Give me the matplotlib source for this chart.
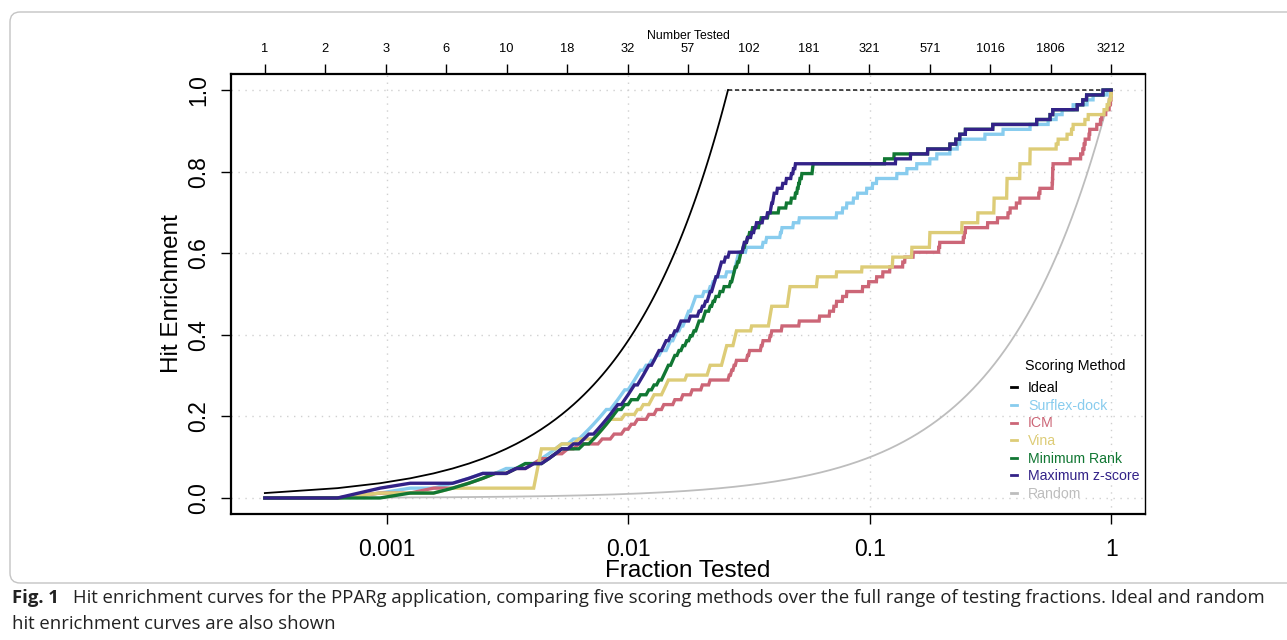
import numpy as np
import matplotlib.pyplot as plt
from matplotlib.lines import Line2D
from matplotlib.patches import FancyBboxPatch
from matplotlib.transforms import IdentityTransform

plt.rcParams["font.family"] = ["Liberation Sans", "DejaVu Sans"]

N_COMPOUNDS = 3212
N_ACTIVES = 83

# position of each active in the ranked list (ties share a rank)
surflex_ranks = [3, 4, 6, 7, 8, 10, 12, 14, 15, 16, 17, 19, 21, 22, 23, 24, 25, 26, 28, 29,
                 30, 31, 33, 34, 35, 36, 38, 40, 42, 44, 47, 48, 50, 51, 53, 55, 56, 57, 59, 60,
                 61, 66, 70, 72, 74, 82, 89, 90, 91, 92, 99, 116, 120, 137, 139, 155, 164, 234,
                 248, 258, 275, 286, 312, 330, 343, 416, 458, 503, 570, 609, 690, 740, 758, 963,
                 1145, 1482, 1761, 1900, 2012, 2234, 2552, 2703, 3090]
icm_ranks = [3, 5, 7, 8, 9, 11, 13, 14, 16, 18, 20, 25, 28, 31, 33, 35, 39, 42, 45, 50,
             54, 59, 65, 70, 84, 86, 88, 90, 100, 102, 114, 116, 124, 126, 139, 164, 199, 219,
             228, 234, 248, 258, 300, 318, 343, 364, 389, 440, 449, 486, 620, 626, 784, 792,
             800, 988, 1086, 1200, 1225, 1300, 1345, 1610, 1628, 1830, 1835, 1838, 1840, 1845,
             2173, 2400, 2450, 2480, 2506, 2600, 2618, 2800, 2900, 2935, 3050, 3150, 3190,
             3205, 3212]
vina_ranks = [3, 6, 14, 14, 14, 14, 14, 14, 14, 14, 17, 20, 24, 25, 26, 27, 31, 35, 37, 40,
              41, 45, 46, 47, 56, 69, 70, 79, 80, 81, 82, 88, 89, 90, 104, 123, 124, 125, 126,
              147, 148, 149, 150, 194, 195, 234, 298, 399, 400, 479, 480, 568, 569, 570, 773,
              774, 900, 901, 1049, 1050, 1051, 1186, 1187, 1188, 1189, 1343, 1344, 1345, 1480,
              1481, 1482, 1900, 1936, 2108, 2200, 2234, 2500, 2580, 3000, 3090, 3150, 3200, 3212]
minrank_ranks = [4, 6, 7, 8, 9, 11, 12, 15, 16, 17, 21, 23, 24, 25, 26, 27, 28, 29, 31, 33,
                 36, 39, 41, 43, 45, 46, 47, 49, 50, 52, 54, 56, 58, 60, 62, 63, 66, 67, 70, 72,
                 74, 77, 80, 85, 87, 88, 89, 91, 93, 94, 96, 98, 100, 102, 105, 112, 114, 122,
                 135, 145, 152, 158, 161, 163, 165, 168, 186, 187, 370, 405, 558, 690, 730, 758,
                 800, 1038, 1578, 1793, 1840, 2323, 2450, 2540, 2970]
maxz_ranks = [3, 3, 4, 7, 8, 11, 13, 15, 16, 17, 19, 21, 22, 24, 25, 26, 27, 28, 29, 31,
              32, 33, 34, 36, 37, 38, 39, 41, 42, 43, 45, 46, 48, 50, 52, 53, 58, 63, 65, 67,
              69, 70, 72, 73, 74, 76, 77, 78, 81, 84, 96, 97, 100, 104, 107, 109, 116, 121,
              125, 126, 128, 129, 133, 140, 145, 152, 155, 158, 411, 474, 558, 690, 730, 758,
              800, 1038, 1578, 1793, 1840, 2323, 2450, 2540, 2970]

method_names = ["Surflex-dock", "ICM", "Vina", "Minimum Rank", "Maximum z-score"]
method_ranks = [surflex_ranks, icm_ranks, vina_ranks, minrank_ranks, maxz_ranks]
method_colors = ["#88CCEE", "#CC6677", "#DDCC77", "#117733", "#332288"]

top_tick_labels = ["1", "2", "3", "6", "10", "18", "32", "57", "102", "181", "321", "571",
                   "1016", "1806", "3212"]
bottom_ticks = [0.001, 0.01, 0.1, 1]
bottom_labels = ["0.001", "0.01", "0.1", "1"]
y_ticks = [0.0, 0.2, 0.4, 0.6, 0.8, 1.0]

n_tested = np.arange(1, N_COMPOUNDS + 1)
frac = n_tested / N_COMPOUNDS

fig = plt.figure(figsize=(12.87, 6.40), dpi=100)
ax = fig.add_axes([231 / 1287, 1 - 514.3 / 640, 914 / 1287, 440.6 / 640])

lo = np.log10(1 / N_COMPOUNDS)
padx = 0.04 * (0 - lo)
ax.set_xscale("log")
ax.set_xlim(10 ** (lo - padx), 10 ** padx)
ax.set_ylim(-0.04, 1.04)

grid_kw = dict(color="#d0d0d0", lw=1.0, ls=(0, (1, 4)), zorder=0)
for xv in bottom_ticks:
    ax.axvline(xv, **grid_kw)
for yv in y_ticks:
    ax.axhline(yv, **grid_kw)

# random selection and perfect ordering
ax.plot(frac, n_tested / N_COMPOUNDS, color="#bdbdbd", lw=1.3, zorder=2)
ideal = np.minimum(n_tested, N_ACTIVES) / N_ACTIVES
rise = n_tested <= N_ACTIVES
flat = n_tested >= N_ACTIVES
ax.plot(frac[rise], ideal[rise], color="black", lw=1.3, zorder=3)
ax.plot(frac[flat], ideal[flat], color="black", lw=1.0, ls=(0, (3, 2)), zorder=3)

for ranks, col in zip(method_ranks, method_colors):
    hits = np.searchsorted(np.sort(ranks), n_tested, side="right")
    ax.plot(frac, hits / len(ranks), color=col, lw=2.4, zorder=4,
            solid_joinstyle="miter")

ax.xaxis.set_major_locator(plt.FixedLocator(bottom_ticks))
ax.xaxis.set_minor_locator(plt.NullLocator())
ax.set_xticklabels(bottom_labels)
ax.set_yticks(y_ticks)
ax.set_yticklabels([f"{v:.1f}" for v in y_ticks])
for lab in ax.get_yticklabels():
    lab.set_rotation(90)
    lab.set_va("center")
ax.tick_params(axis="both", direction="out", length=7, width=1, labelsize=16.5,
               color="black")
ax.tick_params(axis="x", pad=10)
ax.tick_params(axis="y", pad=8)
ax.set_xlabel("Fraction Tested", fontsize=17.5, labelpad=-1)
ax.set_ylabel("Hit Enrichment", fontsize=17.5, labelpad=3)
for side in ["left", "bottom", "top"]:
    ax.spines[side].set_linewidth(1.6)
ax.spines["right"].set_linewidth(1.0)

# count axis: evenly spaced on the log scale from one compound to all of them
top = ax.twiny()
top.set_xscale("log")
top.set_xlim(ax.get_xlim())
top.xaxis.set_major_locator(plt.FixedLocator(np.logspace(lo, 0, len(top_tick_labels))))
top.xaxis.set_minor_locator(plt.NullLocator())
top.set_xticklabels(top_tick_labels)
top.tick_params(axis="x", direction="out", length=7, width=1, labelsize=9.3, pad=6.5)
top.set_xlabel("Number Tested", fontsize=8.8, labelpad=3)
for sp in top.spines.values():
    sp.set_visible(False)

handles = [Line2D([], [], color="black", lw=2)]
labels = ["Ideal"]
for name, col in zip(method_names, method_colors):
    handles.append(Line2D([], [], color=col, lw=2))
    labels.append(name)
handles.append(Line2D([], [], color="#bdbdbd", lw=2))
labels.append("Random")
leg = ax.legend(handles, labels, title="Scoring Method", loc="lower right",
                bbox_to_anchor=(0.994, 0.031), frameon=False, fontsize=10.2,
                title_fontsize=10.3, handlelength=0.45, handletextpad=0.75,
                labelspacing=0.25, borderaxespad=0, borderpad=0,
                labelcolor=["black"] + method_colors + ["#bdbdbd"])
leg.get_title().set_color("black")
leg._legend_box.sep = 6
for txt in leg.get_texts():
    txt.set_fontweight("medium")

# caption panel
fig.add_artist(FancyBboxPatch((10, 640 - 583), 1300, 571,
                              boxstyle="round,pad=0,rounding_size=10",
                              transform=IdentityTransform(), fill=False,
                              ec="#c4c4c4", lw=1.0))
cap_font = ["Open Sans", "DejaVu Sans"]
cap_size = 13.3
fig.text(12 / 1287, 1 - 598 / 640, "Fig. 1", fontsize=cap_size, fontweight="bold",
         family=cap_font, va="center", color="#222222")
fig.text(73 / 1287, 1 - 598 / 640,
         "Hit enrichment curves for the PPARg application, comparing five scoring methods "
         "over the full range of testing fractions. Ideal and random",
         fontsize=cap_size, family=cap_font, va="center", color="#222222")
fig.text(12 / 1287, 1 - 624 / 640, "hit enrichment curves are also shown",
         fontsize=cap_size, family=cap_font, va="center", color="#222222")

fig.savefig("out.png", dpi=100)
